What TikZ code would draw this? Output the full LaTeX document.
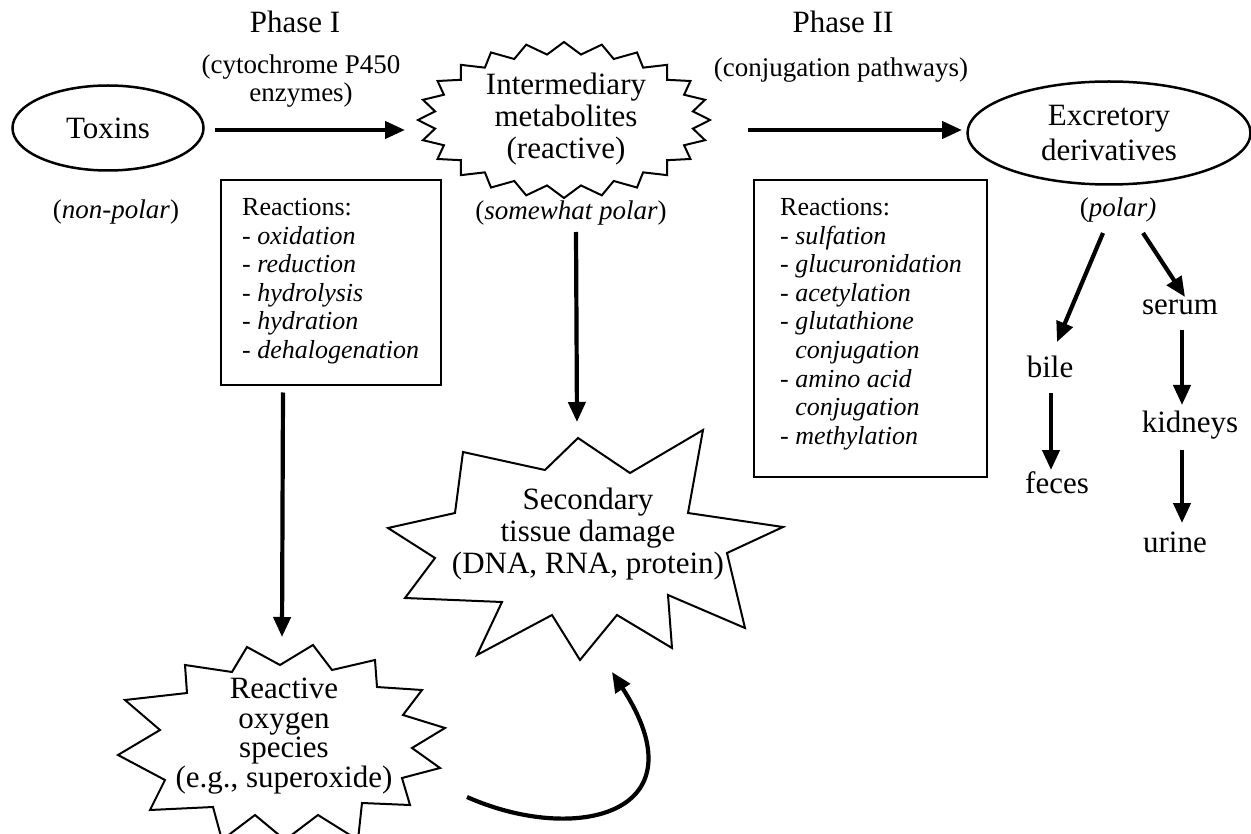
\documentclass[tikz,border=0pt]{standalone}
\usepackage{fontspec}
\setmainfont{Liberation Serif}
\usetikzlibrary{positioning, arrows.meta, shapes.geometric}

\begin{document}
\begin{tikzpicture}[x=1pt, y=-1pt,
        big/.style={font=\fontsize{31}{32}\selectfont, align=center, inner sep=0pt},
        mid/.style={font=\fontsize{27}{28}\selectfont, align=center, inner sep=0pt},
        oval/.style={ellipse, draw, line width=2.5pt, inner sep=0pt},
        reacbox/.style={draw, line width=2.5pt, inner sep=0pt},
        reactext/.style={font=\fontsize{26}{28.6}\selectfont, align=left, inner sep=0pt, anchor=north west},
        burst/.style={draw, line width=2pt, line join=miter, miter limit=20},
        arrow/.style={-{Triangle[length=20pt, width=17pt]}, line width=4.2pt}
    ]
        \useasboundingbox (0,0) rectangle (1251,834);

        % Nós
        \node (phaseI) at (295,22) [big] {Phase I};
        \node (cyp) at (301,81) [mid] {(cytochrome P450\\enzymes)};
        \node (phaseII) at (843,22) [big] {Phase II};
        \node (conj) at (841,70) [mid] {(conjugation pathways)};
        \node (toxins) at (108,128) [oval, minimum width=191pt, minimum height=85pt, big] {Toxins};
        \node (nonpolar) at (116,212) [mid] {(\textit{non-polar})};
        \node (inter) at (566,119) [big] {Intermediary\\metabolites\\(reactive)};
        \node (somewhat) at (571,213) [mid] {(\textit{somewhat polar})};
        \node (excr) at (1109,133) [oval, minimum width=283pt, minimum height=103pt, big, font=\fontsize{31}{35}\selectfont] {Excretory\\derivatives};
        \node (polar) at (1118,210) [mid] {(\textit{polar)}};
        \node (react1) at (331,282.5) [reacbox, minimum width=220pt, minimum height=205pt] {};
        \node (react1txt) at (242,198) [reactext] {Reactions:\\- \textit{oxidation}\\- \textit{reduction}\\- \textit{hydrolysis}\\- \textit{hydration}\\- \textit{dehalogenation}};
        \node (react2) at (870.5,328.5) [reacbox, minimum width=233pt, minimum height=297pt] {};
        \node (react2txt) at (780,198) [reactext] {Reactions:\\- \textit{sulfation}\\- \textit{glucuronidation}\\- \textit{acetylation}\\- \textit{glutathione}\\\hphantom{- }\textit{conjugation}\\- \textit{amino acid}\\\hphantom{- }\textit{conjugation}\\- \textit{methylation}};
        \node (damage) at (588,534) [big] {Secondary\\tissue damage\\(DNA, RNA, protein)};
        \node (ros) at (284,736) [big, font=\fontsize{31}{29.5}\selectfont] {Reactive\\oxygen\\species\\(e.g., superoxide)};
        \node (bile) at (1050,367) [big] {bile};
        \node (feces) at (1057,483) [big] {feces};
        \node (serum) at (1180,307) [big] {serum};
        \node (kidneys) at (1190,425) [big] {kidneys};
        \node (urine) at (1175,542) [big] {urine};

        % Contornos
        \draw[burst, shift={(564,120)}] plot[samples=49, domain=0:360, variable=\t]
            ({(146-16*mod(round(\t/7.5),2))*cos(\t)}, {(78-12*mod(round(\t/7.5),2))*sin(\t)}) -- cycle;
        \draw[burst] (578,438) -- (630,473) -- (703,430) -- (688,513) -- (783,527) -- (727,553)
            -- (745,628) -- (668,595) -- (672,648) -- (617,615) -- (580,660) -- (552,615)
            -- (477,655) -- (502,602) -- (405,598) -- (435,558) -- (388,528) -- (455,513)
            -- (463,452) -- (545,470) -- cycle;
        \draw[burst] (247,647) -- (280,665) -- (313,645) -- (332,670) -- (375,660) -- (377,687)
            -- (422,690) -- (403,715) -- (445,728) -- (412,748) -- (440,768) -- (402,778)
            -- (410,805) -- (362,803) -- (358,840) -- (318,815) -- (285,840) -- (255,815)
            -- (222,840) -- (213,807) -- (150,810) -- (165,780) -- (118,755) -- (160,730)
            -- (125,700) -- (187,693) -- (185,665) -- (232,672) -- cycle;

        % Conexões
        \draw[arrow] ([shift={(107,2)}]toxins.center) -- ([shift={(-161,11)}]inter.center);
        \draw[arrow] ([shift={(182,11)}]inter.center) -- ([shift={(-147,-3)}]excr.center);
        \draw[arrow] ([shift={(-48,110)}]react1.center) -- ([shift={(-2,-99)}]ros.center);
        \draw[arrow] ([shift={(5,19)}]somewhat.center) -- ([shift={(-11,-112)}]damage.center);
        \draw[arrow] ([shift={(183,61)}]ros.center) .. controls (575,845) and (705,815) .. ([shift={(24,138)}]damage.center);
        \draw[arrow] ([shift={(-15,23)}]polar.center) -- ([shift={(7,-25)}]bile.center);
        \draw[arrow] ([shift={(25,23)}]polar.center) -- ([shift={(5,-10)}]serum.center);
        \draw[arrow] ([shift={(1,26)}]bile.center) -- ([shift={(-6,-13)}]feces.center);
        \draw[arrow] ([shift={(2,23)}]serum.center) -- ([shift={(-8,-20)}]kidneys.center);
        \draw[arrow] ([shift={(-8,25)}]kidneys.center) -- ([shift={(7,-19)}]urine.center);
    \end{tikzpicture}
\end{document}
